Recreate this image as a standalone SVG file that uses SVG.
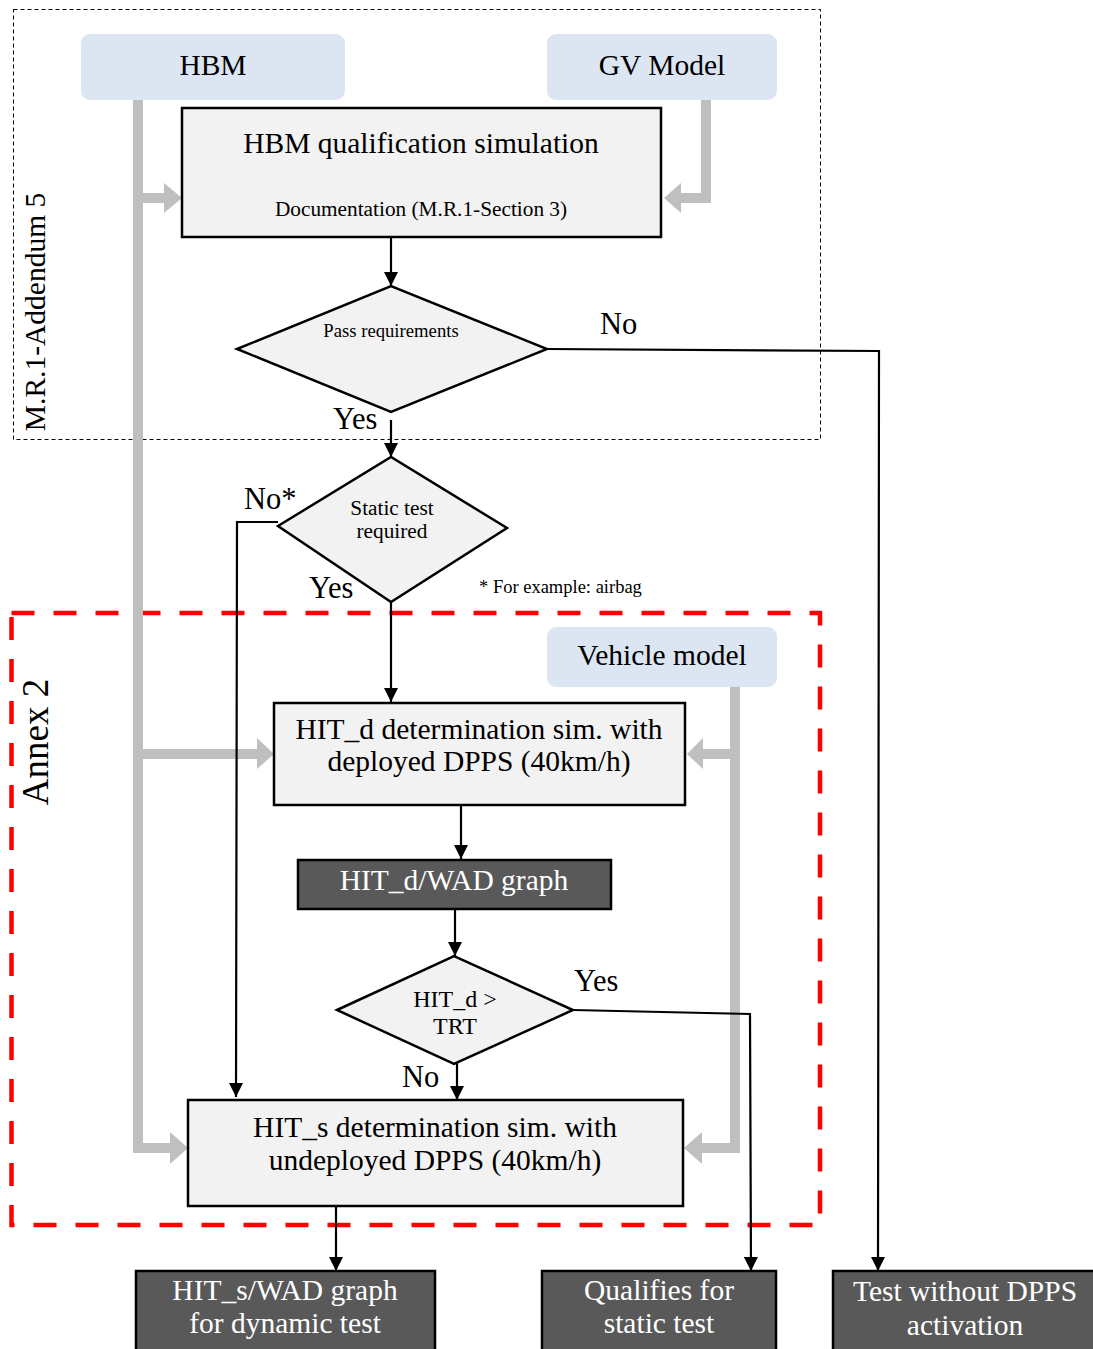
<svg xmlns="http://www.w3.org/2000/svg" width="1093" height="1349" viewBox="0 0 1093 1349">
<style>
text{font-family:"Liberation Serif","Times New Roman",serif;fill:#000}
.t28{font-size:29.5px}
.lbl{font-size:30.5px}
.mid{text-anchor:middle}
.src{fill:#dce6f2;stroke:none}
.proc{fill:#f2f2f2;stroke:#000;stroke-width:2.5}
.dark{fill:#595959;stroke:#000;stroke-width:2.5}
.wt{fill:#fff}
.conn{fill:none;stroke:#000;stroke-width:2.2}
.gray{fill:none;stroke:#bfbfbf;stroke-width:10}
.gh{fill:#bfbfbf;stroke:none}
</style>
<defs>
<marker id="ah" markerUnits="userSpaceOnUse" markerWidth="14" markerHeight="14" refX="14" refY="7" orient="auto">
<path d="M0,0 L14,7 L0,14 z" fill="#000"/>
</marker>
</defs>

<g id="frames">
<rect x="13.5" y="9.5" width="807" height="430" fill="none" stroke="#000" stroke-width="1" stroke-dasharray="4,3"/>
<text class="t28 mid" transform="translate(45,312) rotate(-90)">M.R.1-Addendum 5</text>
<rect x="11.5" y="613" width="808.5" height="612" fill="none" stroke="#ff0000" stroke-width="4.5" stroke-dasharray="23,19"/>
<text class="mid" font-size="37" transform="translate(48,742) rotate(-90)">Annex 2</text>
</g>

<g id="connectors">
<path class="gray" d="M138,100 V1148 H172"/>
<path class="gray" d="M138,198 H166"/>
<polygon class="gh" points="164,183 182,198 164,213"/>
<path class="gray" d="M138,754 H259"/>
<polygon class="gh" points="257,738 274,754 257,769"/>
<polygon class="gh" points="170,1132 188,1148 170,1164"/>
<path class="gray" d="M706,100 V198 H679"/>
<polygon class="gh" points="681,183 664,198 681,213"/>
<path class="gray" d="M735,687 V1148 H700"/>
<path class="gray" d="M735,754 H701"/>
<polygon class="gh" points="703,738 687,754 703,769"/>
<polygon class="gh" points="702,1132 684,1148 702,1164"/>

<path class="conn" d="M391,237 V286" marker-end="url(#ah)"/>
<path class="conn" d="M391,420 V457" marker-end="url(#ah)"/>
<path class="conn" d="M391,602 V702" marker-end="url(#ah)"/>
<path class="conn" d="M278,522 H237 L236,1097" marker-end="url(#ah)"/>
<path class="conn" d="M461,805 V859" marker-end="url(#ah)"/>
<path class="conn" d="M455,910 V956" marker-end="url(#ah)"/>
<path class="conn" d="M457,1063 V1100" marker-end="url(#ah)"/>
<path class="conn" d="M336,1206 V1271" marker-end="url(#ah)"/>
<path class="conn" d="M573,1010 L750,1014 L751,1271" marker-end="url(#ah)"/>
<path class="conn" d="M547,349 L879,351 L878,1271" marker-end="url(#ah)"/>

<text class="lbl" x="600" y="334">No</text>
<text class="lbl" x="333" y="429">Yes</text>
<text class="lbl" x="244" y="509">No*</text>
<text class="lbl" x="309" y="598">Yes</text>
<text x="479" y="593" font-size="18.5">* For example: airbag</text>
<text class="lbl" x="574" y="991">Yes</text>
<text class="lbl" x="402" y="1087">No</text>
</g>

<g id="hbm">
<rect class="src" x="81" y="34" width="264" height="66" rx="9"/>
<text class="t28 mid" x="213" y="75">HBM</text>
</g>
<g id="gv-model">
<rect class="src" x="547" y="34" width="230" height="66" rx="9"/>
<text class="t28 mid" x="662" y="75">GV Model</text>
</g>
<g id="hbm-qualification">
<rect class="proc" x="182" y="108" width="479" height="129"/>
<text class="t28 mid" x="421" y="153">HBM qualification simulation</text>
<text class="mid" x="421" y="216" font-size="21.3">Documentation (M.R.1-Section 3)</text>
</g>
<g id="pass-requirements">
<polygon class="proc" points="237,349 391,286 547,349 391,412"/>
<text class="mid" x="391" y="337" font-size="18.7">Pass requirements</text>
</g>
<g id="static-test">
<polygon class="proc" points="278,526 391,457 507,528 391,602"/>
<text class="mid" x="392" y="515" font-size="21.3">Static test</text>
<text class="mid" x="392" y="538" font-size="21.3">required</text>
</g>
<g id="vehicle-model">
<rect class="src" x="547" y="627" width="230" height="60" rx="9"/>
<text class="t28 mid" x="662" y="665">Vehicle model</text>
</g>
<g id="hit-d-sim">
<rect class="proc" x="274" y="703" width="411" height="102"/>
<text class="t28 mid" x="479" y="739">HIT_d determination sim. with</text>
<text class="t28 mid" x="479" y="771">deployed DPPS (40km/h)</text>
</g>
<g id="hit-d-wad">
<rect class="dark" x="298" y="860" width="313" height="49"/>
<text class="t28 mid wt" x="454" y="890">HIT_d/WAD graph</text>
</g>
<g id="hit-d-trt">
<polygon class="proc" points="337,1010 454,956 573,1010 454,1064"/>
<text class="mid" x="455" y="1007" font-size="24">HIT_d &gt;</text>
<text class="mid" x="455" y="1034" font-size="24">TRT</text>
</g>
<g id="hit-s-sim">
<rect class="proc" x="188" y="1100" width="495" height="106"/>
<text class="t28 mid" x="435" y="1137">HIT_s determination sim. with</text>
<text class="t28 mid" x="435" y="1170">undeployed DPPS (40km/h)</text>
</g>
<g id="hit-s-wad">
<rect class="dark" x="136" y="1271" width="299" height="95"/>
<text class="t28 mid wt" x="285" y="1300">HIT_s/WAD graph</text>
<text class="t28 mid wt" x="285" y="1333">for dynamic test</text>
</g>
<g id="qualifies-static">
<rect class="dark" x="542" y="1271" width="234" height="95"/>
<text class="t28 mid wt" x="659" y="1300">Qualifies for</text>
<text class="t28 mid wt" x="659" y="1333">static test</text>
</g>
<g id="test-without-dpps">
<rect class="dark" x="833" y="1271" width="270" height="95"/>
<text class="t28 mid wt" x="965" y="1301">Test without DPPS</text>
<text class="t28 mid wt" x="965" y="1335">activation</text>
</g>
</svg>
